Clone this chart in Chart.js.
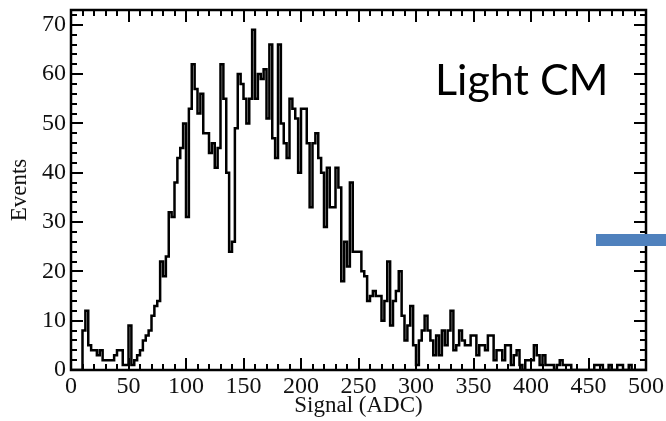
<!DOCTYPE html>
<html>
<head>
<meta charset="utf-8">
<title>Light CM</title>
<script src="https://cdn.jsdelivr.net/npm/chart.js@4.4.1/dist/chart.umd.min.js"></script>
<style>
  html, body { margin: 0; padding: 0; background: #fff; }
  canvas { display: block; }
</style>
</head>
<body>
<canvas id="hist" width="666" height="421"></canvas>
<script>
// histogram bins: 2.5 ADC wide, starting at 0
const binWidth = 2.5;
const counts = [
  0, 0, 0, 0, 0, 8, 12, 5, 4, 4,
  3, 4, 2, 2, 2, 2, 3, 4, 4, 1,
  1, 9, 1, 2, 3, 4, 6, 7, 8, 11,
  13, 14, 22, 19, 23, 32, 31, 38, 43, 45,
  50, 31, 53, 62, 57, 52, 56, 48, 48, 44,
  46, 41, 45, 62, 55, 40, 24, 26, 49, 60,
  58, 55, 50, 55, 69, 55, 60, 59, 61, 51,
  66, 47, 43, 66, 50, 46, 43, 55, 53, 51,
  40, 53, 53, 46, 33, 46, 48, 43, 40, 29,
  41, 33, 33, 41, 37, 18, 26, 21, 38, 24,
  24, 24, 20, 19, 14, 15, 16, 15, 15, 10,
  14, 22, 9, 14, 16, 20, 11, 6, 9, 13,
  5, 1, 6, 8, 11, 8, 6, 3, 7, 3,
  8, 5, 8, 12, 4, 5, 8, 6, 5, 5,
  7, 7, 3, 5, 5, 4, 7, 7, 2, 4,
  4, 2, 5, 5, 1, 3, 4, 1, 0, 2,
  2, 2, 5, 3, 1, 3, 1, 1, 1, 0,
  1, 2, 1, 1, 1, 0, 0, 0, 0, 0,
  0, 0, 0, 1, 1, 1, 0, 0, 1, 0,
  0, 1, 1, 0, 0, 1, 0, 0, 0, 0
];
const xTicks = [0, 50, 100, 150, 200, 250, 300, 350, 400, 450, 500];
const yTicks = [0, 10, 20, 30, 40, 50, 60, 70];
const xMax = 500;
const yMax = 73;
const xMinorStep = 10;
const yMinorStep = 2;

// step points: each bin starts at its left edge, last point closes the range
const points = counts.map((c, i) => ({ x: i * binWidth, y: c }));
points.push({ x: counts.length * binWidth, y: counts[counts.length - 1] });

const serif = 'Liberation Serif, Times New Roman, serif';

// boxed frame with inward major/minor ticks on all four sides, plus the label
const framePlugin = {
  id: 'frame',
  afterDatasetsDraw(chart) {
    const { ctx, chartArea: a, scales: { x, y } } = chart;
    ctx.save();
    ctx.strokeStyle = '#000';
    ctx.lineWidth = 2;
    ctx.beginPath();
    for (let v = 0; v <= xMax; v += xMinorStep) {
      const px = Math.round(x.getPixelForValue(v));
      const len = v % 50 === 0 ? 12 : 6;
      ctx.moveTo(px, a.bottom); ctx.lineTo(px, a.bottom - len);
      ctx.moveTo(px, a.top); ctx.lineTo(px, a.top + len);
    }
    for (let v = 0; v <= yMax; v += yMinorStep) {
      const py = Math.round(y.getPixelForValue(v));
      const len = v % 10 === 0 ? 12 : 6;
      ctx.moveTo(a.left, py); ctx.lineTo(a.left + len, py);
      ctx.moveTo(a.right, py); ctx.lineTo(a.right - len, py);
    }
    ctx.stroke();
    ctx.lineWidth = 2.5;
    ctx.strokeRect(a.left, a.top, a.right - a.left, a.bottom - a.top);

    ctx.fillStyle = '#000';
    ctx.font = '43px Lato, sans-serif';
    ctx.textBaseline = 'alphabetic';
    ctx.textAlign = 'left';
    ctx.fillText('Light CM', 435, 95);

    ctx.fillStyle = '#4F81BD';
    ctx.fillRect(596, 234, 70, 12);
    ctx.restore();
  }
};

new Chart(document.getElementById('hist'), {
  type: 'line',
  data: {
    datasets: [{
      data: points,
      stepped: 'after',
      borderColor: '#000',
      borderWidth: 2.5,
      borderJoinStyle: 'miter',
      pointRadius: 0,
      fill: false,
      tension: 0
    }]
  },
  options: {
    responsive: false,
    animation: false,
    layout: { padding: { top: 10, right: 20, left: 0, bottom: 0 } },
    plugins: {
      legend: { display: false },
      tooltip: { enabled: false }
    },
    scales: {
      x: {
        type: 'linear',
        min: 0,
        max: xMax,
        grid: { display: false, drawTicks: false },
        border: { display: false },
        afterBuildTicks: (s) => { s.ticks = xTicks.map(v => ({ value: v })); },
        afterFit: (s) => { s.height = 51; s.paddingLeft = 0; s.paddingRight = 0; },
        ticks: {
          autoSkip: false,
          maxRotation: 0,
          padding: 2,
          color: '#111',
          font: { family: serif, size: 24 }
        },
        title: {
          display: true,
          text: 'Signal (ADC)',
          color: '#111',
          font: { family: serif, size: 23 },
          padding: { top: 0, bottom: 1 }
        }
      },
      y: {
        min: 0,
        max: yMax,
        grid: { display: false, drawTicks: false },
        border: { display: false },
        afterBuildTicks: (s) => { s.ticks = yTicks.map(v => ({ value: v })); },
        afterFit: (s) => { s.width = 71; s.paddingTop = 0; s.paddingBottom = 0; },
        ticks: {
          padding: 5,
          color: '#111',
          font: { family: serif, size: 24 }
        },
        title: {
          display: true,
          text: 'Events',
          color: '#111',
          font: { family: serif, size: 23 },
          padding: { top: 6, bottom: 0 }
        }
      }
    }
  },
  plugins: [framePlugin]
});
</script>
</body>
</html>
